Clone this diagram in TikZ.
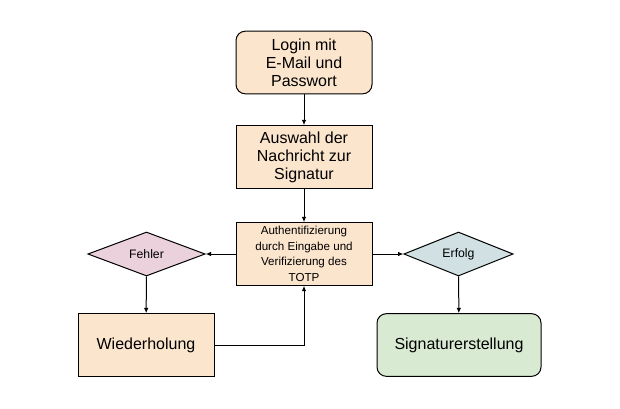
\documentclass[tikz,border=0pt]{standalone}
\usepackage{fontspec}
\setmainfont{Liberation Sans}
\usetikzlibrary{shapes.geometric,arrows.meta}

\definecolor{peach}{HTML}{FCE5CD}
\definecolor{rose}{HTML}{EAD1DC}
\definecolor{steel}{HTML}{D0E0E3}
\definecolor{mint}{HTML}{D9EAD3}

\begin{document}
\begin{tikzpicture}[x=0.75pt, y=-0.75pt, line width=0.75pt,
    >={Latex[length=4pt,width=3.5pt]},
    box/.style={draw, fill=peach, align=center, inner sep=1pt,
      minimum width=102pt, minimum height=47pt,
      font=\fontsize{12}{13.5}\selectfont},
    choice/.style={draw, diamond, inner sep=0pt, minimum height=33pt,
      font=\fontsize{9.2}{11}\selectfont}]
  \useasboundingbox (0,0) rectangle (620,408);
  % centres of the shapes, in pixels of the original
  \coordinate (L) at (304,62.5);
  \coordinate (A) at (304,157);
  \coordinate (T) at (304,254);
  \coordinate (F) at (146.5,254);
  \coordinate (E) at (458.5,254);
  \coordinate (W) at (146,345);
  \coordinate (S) at (459,345);
  \node[box, rounded corners=7pt] (login) at (L) {Login mit\\E-Mail und\\Passwort};
  \node[box] (auswahl) at (A) {Auswahl der\\Nachricht zur\\Signatur};
  \node[box, font=\fontsize{8.7}{11.6}\selectfont] (totp) at (T)
    {Authentifizierung\\durch Eingabe und\\Verifizierung des\\TOTP};
  \node[choice, fill=rose, minimum width=88pt] (fehler) at (F) {Fehler};
  \node[choice, fill=steel, minimum width=82pt] (erfolg) at (E) {Erfolg};
  \node[box] (wieder) at (W) {Wiederholung};
  \node[box, fill=mint, rounded corners=7pt, minimum width=123pt] (signatur) at (S)
    {Signaturerstellung};
  \draw[->] (login) -- (auswahl);
  \draw[->] (auswahl) -- (totp);
  \draw[->] (totp) -- (fehler);
  \draw[->] (totp) -- (erfolg);
  \draw[->] (fehler) -- (wieder);
  \draw[->] (erfolg) -- (signatur);
  \draw[->] (wieder.east) -| (totp.south);
\end{tikzpicture}
\end{document}
